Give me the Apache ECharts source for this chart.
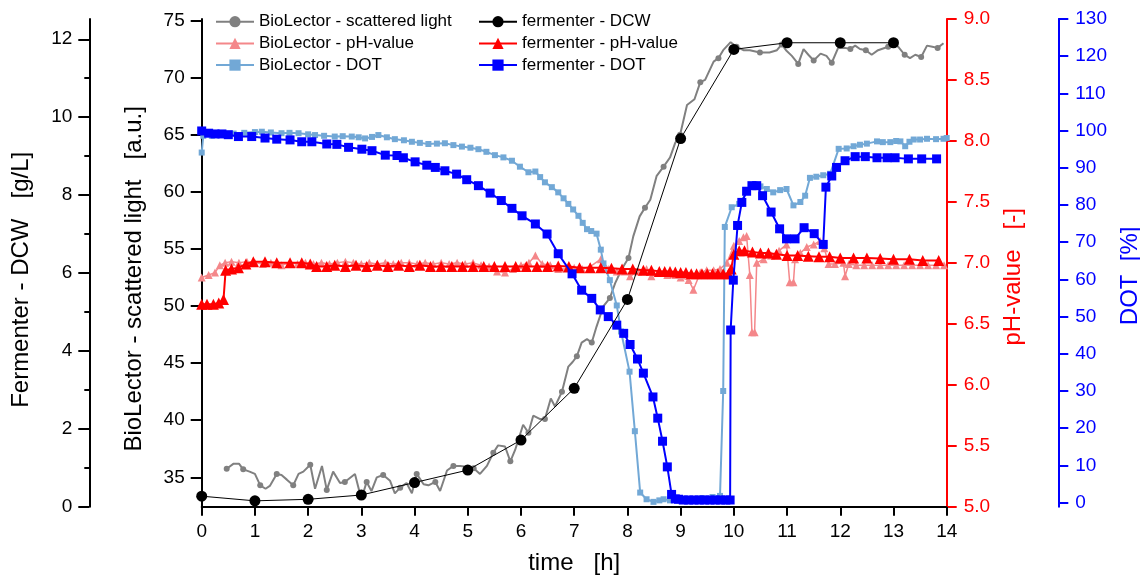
<!DOCTYPE html>
<html><head><meta charset="utf-8">
<script src="https://cdn.jsdelivr.net/npm/echarts@6/dist/echarts.min.js"></script>
<style>html,body{margin:0;padding:0;background:#fff}#c{width:1140px;height:579px}</style>
</head><body><div id="c"></div>
<script>
// ---- tick labels ----
const xTicks = [0,1,2,3,4,5,6,7,8,9,10,11,12,13,14];
const scatterTicks = [35,40,45,50,55,60,65,70,75];
const dcwTicks = [0,2,4,6,8,10,12];
const dcwMinorTicks = [1,3,5,7,9,11];
const phTicks = [5.0,5.5,6.0,6.5,7.0,7.5,8.0,8.5,9.0];
const dotTicks = [0,10,20,30,40,50,60,70,80,90,100,110,120,130];

// ---- BioLector - scattered light [a.u.] ----
const bioScatterTime = [0.47,0.6,0.7,0.78,0.9,1.0,1.1,1.2,1.28,1.41,1.5,1.6,1.72,1.82,1.91,2.04,2.13,2.26,2.35,2.47,2.6,2.69,2.88,3.0,3.1,3.19,3.29,3.41,3.54,3.63,3.73,3.85,3.95,4.04,4.17,4.26,4.39,4.48,4.61,4.73,4.86,5.01,5.11,5.23,5.36,5.48,5.57,5.7,5.8,5.89,6.04,6.14,6.23,6.36,6.45,6.56,6.64,6.77,6.89,6.97,7.05,7.14,7.24,7.33,7.42,7.55,7.67,7.77,7.89,8.02,8.11,8.23,8.33,8.43,8.55,8.68,8.8,8.9,8.99,9.12,9.26,9.37,9.46,9.62,9.71,9.8,9.94,10.05,10.18,10.3,10.49,10.67,10.81,10.9,10.98,11.09,11.21,11.31,11.4,11.5,11.63,11.74,11.84,11.96,12.09,12.19,12.28,12.37,12.48,12.59,12.71,12.9,13.0,13.09,13.21,13.31,13.41,13.52,13.63,13.73,13.83,13.94];
const bioScatterValue = [35.75,36.2,36.2,35.7,35.5,35.3,34.3,34.0,34.25,35.3,35.2,34.8,34.3,35.3,35.5,36.1,34.0,36.0,33.9,35.5,34.5,34.6,35.3,33.1,34.6,33.8,35.0,35.2,34.7,33.6,34.1,34.5,33.6,35.3,34.4,34.3,34.6,33.8,35.6,36.0,36.0,35.9,35.8,35.3,36.0,37.15,37.8,37.7,36.4,37.4,39.6,38.9,40.4,40.1,40.1,41.9,41.2,42.5,44.7,45.1,45.6,46.8,47.1,46.8,48.2,50.0,50.7,52.0,53.2,54.2,56.1,57.85,58.6,59.3,61.4,62.2,63.0,64.3,65.0,67.6,68.1,69.6,69.8,71.4,71.7,72.4,73.1,72.7,72.4,72.4,72.2,72.2,72.4,72.9,72.4,71.9,71.2,72.5,72.0,71.5,72.1,71.9,71.3,72.6,72.6,72.5,72.8,72.5,72.4,72.0,72.4,72.7,72.9,72.7,72.0,71.7,72.0,71.8,72.8,72.7,72.6,73.0];

// ---- BioLector - pH-value ----
const bioPhTime = [0,0.13,0.25,0.34,0.44,0.56,0.7,0.85,1.0,1.15,1.3,1.5,1.65,1.8,1.95,2.1,2.25,2.4,2.55,2.7,2.85,3.0,3.15,3.3,3.45,3.6,3.75,3.9,4.05,4.2,4.35,4.5,4.65,4.8,4.95,5.1,5.25,5.4,5.55,5.7,5.85,6.0,6.15,6.27,6.4,6.55,6.7,6.85,7.0,7.15,7.3,7.5,7.65,7.8,7.95,8.05,8.2,8.36,8.45,8.61,8.75,8.9,9.0,9.15,9.24,9.37,9.49,9.62,9.74,9.87,10.0,10.1,10.18,10.24,10.3,10.34,10.39,10.43,10.56,10.7,10.85,10.99,11.05,11.12,11.15,11.25,11.37,11.5,11.62,11.7,11.78,11.9,12.06,12.09,12.16,12.3,12.45,12.6,12.75,12.9,13.05,13.2,13.35,13.5,13.65,13.8,13.95];
const bioPhValue = [6.88,6.9,6.92,6.98,7.0,7.01,7.0,7.01,7.0,6.99,7.0,6.98,7.0,6.99,7.0,6.99,7.0,6.99,7.0,7.01,7.0,6.99,7.0,6.99,7.0,6.99,7.0,7.0,6.99,7.0,6.99,7.0,6.99,7.0,6.99,7.0,6.98,6.97,6.93,6.92,6.95,6.98,7.0,7.06,6.99,6.98,6.95,6.95,6.96,6.95,6.97,7.03,6.95,6.93,6.93,6.89,6.93,6.95,6.89,6.92,6.9,6.9,6.88,6.86,6.78,6.92,6.94,6.94,6.95,7.0,7.14,7.18,7.21,7.22,6.9,6.43,6.43,7.0,7.03,7.06,7.1,7.15,6.84,6.84,7.03,7.08,7.13,7.15,7.18,7.12,6.99,6.99,7.0,6.89,6.99,6.98,6.98,6.98,6.98,6.98,6.98,6.98,6.98,6.98,6.98,6.98,6.98];

// ---- BioLector - DOT [%] ----
const bioDotTime = [0,0.03,0.19,0.4,0.6,0.8,1.0,1.13,1.3,1.5,1.65,1.82,2.0,2.13,2.3,2.5,2.65,2.82,2.95,3.07,3.2,3.32,3.48,3.63,3.8,3.95,4.1,4.26,4.42,4.57,4.73,4.89,5.05,5.2,5.35,5.51,5.67,5.83,5.98,6.14,6.27,6.36,6.45,6.58,6.7,6.8,6.89,6.98,7.08,7.16,7.24,7.32,7.42,7.5,7.55,7.67,7.8,7.88,8.04,8.14,8.24,8.36,8.49,8.6,8.68,8.8,9.0,9.2,9.4,9.6,9.74,9.8,9.83,9.96,10.1,10.25,10.4,10.5,10.62,10.74,10.87,10.99,11.12,11.25,11.34,11.43,11.55,11.68,11.81,11.97,12.12,12.25,12.37,12.5,12.69,12.8,12.94,13.05,13.13,13.22,13.3,13.38,13.5,13.63,13.8,13.94,14.0];
const bioDotValue = [94.1,98.6,98.6,99.0,99.2,99.4,99.6,99.7,99.5,99.3,99.4,99.3,99.0,98.8,98.6,98.4,98.5,98.4,98.2,97.9,98.3,98.8,98.2,97.7,97.4,97.0,96.7,96.4,96.5,96.6,96.1,95.7,95.4,95.0,94.3,93.4,92.8,91.9,90.3,88.8,89.0,87.5,86.1,84.8,83.4,81.8,80.3,78.8,77.1,75.2,73.5,73.0,72.3,68.0,64.3,59.8,53.0,46.0,35.2,19.2,2.7,0.9,0.2,0.6,0.9,0.6,0.8,0.9,1.2,1.5,1.8,30.0,74.1,79.4,80.3,83.5,85.5,85.0,84.3,83.4,84.0,84.3,79.9,80.8,82.5,87.3,87.6,88.0,88.4,95.1,95.2,95.8,96.2,96.5,97.1,96.9,96.9,97.2,97.1,95.8,97.0,97.6,97.6,97.8,97.7,97.8,98.0];

// ---- fermenter - DCW [g/L] ----
const fermDcwTime = [0,1,2,3,4,5,6,7,8,9,10,11,12,13];
const fermDcwValue = [0.27,0.15,0.19,0.30,0.62,0.94,1.71,3.04,5.32,9.45,11.74,11.91,11.91,11.91];

// ---- fermenter - pH-value ----
const fermPhTime = [0,0.1,0.22,0.32,0.41,0.45,0.56,0.69,0.83,0.97,1.19,1.41,1.66,1.88,2.04,2.16,2.35,2.5,2.7,2.9,3.1,3.3,3.5,3.7,3.9,4.1,4.3,4.5,4.7,4.9,5.1,5.3,5.5,5.7,5.9,6.1,6.3,6.5,6.7,6.9,7.1,7.3,7.5,7.7,7.9,8.1,8.3,8.45,8.6,8.7,8.8,8.9,9.0,9.1,9.2,9.3,9.4,9.5,9.6,9.7,9.8,9.9,9.95,10.0,10.1,10.2,10.35,10.5,10.65,10.8,11.0,11.2,11.4,11.6,11.8,12.0,12.25,12.5,12.75,13.0,13.3,13.55,13.85];
const fermPhValue = [6.66,6.66,6.66,6.67,6.70,6.94,6.95,6.96,6.99,7.01,7.01,7.0,7.0,7.0,6.99,6.97,6.97,6.98,6.97,6.98,6.97,6.98,6.97,6.98,6.97,6.98,6.97,6.97,6.97,6.97,6.97,6.97,6.97,6.97,6.97,6.97,6.97,6.97,6.975,6.97,6.96,6.96,6.96,6.955,6.95,6.95,6.94,6.94,6.93,6.93,6.93,6.925,6.92,6.92,6.91,6.91,6.91,6.91,6.91,6.91,6.91,6.91,6.95,7.07,7.1,7.1,7.09,7.08,7.08,7.07,7.06,7.06,7.055,7.05,7.05,7.04,7.04,7.04,7.035,7.03,7.03,7.02,7.02];

// ---- fermenter - DOT [%] ----
const fermDotTime = [0,0.13,0.25,0.38,0.5,0.69,0.94,1.19,1.41,1.66,1.88,2.07,2.35,2.54,2.76,3.01,3.2,3.45,3.67,3.79,4.01,4.23,4.39,4.57,4.79,4.98,5.2,5.42,5.63,5.83,6.02,6.27,6.49,6.7,6.96,7.14,7.33,7.49,7.64,7.8,7.93,8.05,8.19,8.3,8.48,8.57,8.66,8.75,8.83,8.9,8.96,9.05,9.15,9.25,9.35,9.45,9.55,9.65,9.75,9.85,9.93,9.94,9.99,10.07,10.15,10.24,10.34,10.43,10.54,10.7,10.86,10.99,11.15,11.32,11.51,11.68,11.73,11.84,11.93,12.09,12.28,12.47,12.69,12.88,13.03,13.28,13.53,13.81];
const fermDotValue = [99.9,99.3,99.1,99.1,98.9,98.4,98.4,98.0,97.7,97.5,97.0,97.0,96.4,96.3,95.5,95.0,94.6,93.4,93.3,92.7,91.6,90.7,90.1,89.2,88.3,86.8,85.2,83.2,81.2,79.1,77.1,74.9,72.2,66.9,61.5,57.1,54.9,51.8,50.0,47.7,45.5,42.5,38.6,34.8,28.4,22.7,16.5,9.6,2.2,1.0,0.9,0.7,0.7,0.7,0.7,0.7,0.7,0.7,0.7,0.7,0.7,46.4,59.8,74.5,80.7,83.7,85.2,85.2,82.5,78.1,73.6,70.9,70.9,73.9,72.3,69.4,84.8,87.8,90.1,91.9,93.0,93.0,92.7,92.7,92.7,92.4,92.4,92.4];

function zip(t, v) { return t.map(function (x, i) { return [x, v[i]]; }); }

const FONT = 'Liberation Sans, Arial, sans-serif';
const chart = echarts.init(document.getElementById('c'), null, { renderer: 'canvas' });

function yAxisBase(opts) {
  const col = opts.color;
  return {
    type: 'value',
    position: opts.position,
    offset: opts.offset,
    min: opts.min, max: opts.max,
    name: opts.name,
    nameLocation: 'middle',
    nameRotate: 90,
    nameGap: opts.nameGap,
    nameTextStyle: { fontSize: 24, color: col, fontFamily: FONT, padding: opts.namePad },
    axisLine: { show: true, onZero: false, lineStyle: { color: col, width: 2 } },
    axisTick: { show: true, inside: false, length: opts.tickLen, customValues: opts.ticks, lineStyle: { color: col, width: 2 } },
    axisLabel: { show: true, margin: 17, fontSize: 19, color: col, fontFamily: FONT, customValues: opts.ticks, formatter: opts.fmt },
    splitLine: { show: false }
  };
}

const option = {
  animation: false,
  backgroundColor: '#ffffff',
  textStyle: { fontFamily: FONT },
  grid: { left: 201.7, right: 193.3, top: 19, bottom: 72.3, containLabel: false, outerBoundsMode: 'none' },
  legend: [
    {
      data: ['BioLector - scattered light', 'BioLector - pH-value', 'BioLector - DOT'],
      orient: 'vertical', left: 210, top: 8.2, itemWidth: 38, itemHeight: 14, itemGap: 4.7,
      selectedMode: false,
      textStyle: { fontSize: 17, color: '#000', lineHeight: 17, fontFamily: FONT }
    },
    {
      data: ['fermenter - DCW', 'fermenter - pH-value', 'fermenter - DOT'],
      orient: 'vertical', left: 473, top: 8.2, itemWidth: 38, itemHeight: 14, itemGap: 4.7,
      selectedMode: false,
      textStyle: { fontSize: 17, color: '#000', lineHeight: 17, fontFamily: FONT }
    }
  ],
  xAxis: [{
    type: 'value', min: 0, max: 14, interval: 1,
    name: 'time   [h]', nameLocation: 'middle', nameGap: 45,
    nameTextStyle: { fontSize: 24, color: '#000', fontFamily: FONT },
    axisLine: { onZero: false, lineStyle: { color: '#000', width: 2 } },
    axisTick: { inside: false, length: 9, customValues: xTicks, lineStyle: { color: '#000', width: 2 } },
    axisLabel: { margin: 16, fontSize: 19, color: '#000', fontFamily: FONT, customValues: xTicks },
    splitLine: { show: false }
  }],
  yAxis: [
    yAxisBase({ position: 'left', offset: 0, min: 32.43, max: 75.13, name: 'BioLector - scattered light   [a.u.]',
      nameGap: 55, namePad: [0, 32, 0, 0], color: '#000', tickLen: 11, ticks: scatterTicks }),
    yAxisBase({ position: 'left', offset: 112.4, min: 0, max: 12.52, name: 'Fermenter - DCW   [g/L]',
      nameGap: 56, namePad: [0, 34, 0, 0], color: '#000', tickLen: 11, ticks: dcwTicks }),
    yAxisBase({ position: 'right', offset: 0, min: 5, max: 9, name: 'pH-value   [-]',
      nameGap: 55, namePad: [0, 28, 0, 0], color: '#ff0000', tickLen: 10, ticks: phTicks,
      fmt: function (v) { return v.toFixed(1); } }),
    yAxisBase({ position: 'right', offset: 111.6, min: -1.1, max: 130, name: 'DOT  [%]',
      nameGap: 52, namePad: [0, 26, 0, 0], color: '#0000ff', tickLen: 10, ticks: dotTicks }),
    {
      type: 'value', position: 'left', offset: 112.4, min: 0, max: 12.52,
      axisLine: { show: false, onZero: false },
      axisTick: { show: true, inside: false, length: 5, customValues: dcwMinorTicks, lineStyle: { color: '#000', width: 2 } },
      axisLabel: { show: false },
      splitLine: { show: false }
    }
  ],
  series: [
    {
      name: 'BioLector - scattered light', type: 'line', yAxisIndex: 0,
      data: zip(bioScatterTime, bioScatterValue),
      symbol: 'circle', showAllSymbol: true,
      symbolSize: function (val, p) { return p.dataIndex % 3 === 0 ? 6 : 0; },
      color: '#808080', lineStyle: { color: '#808080', width: 2 }, itemStyle: { color: '#808080' },
      z: 2
    },
    {
      name: 'BioLector - pH-value', type: 'line', yAxisIndex: 2,
      data: zip(bioPhTime, bioPhValue),
      symbol: 'triangle', symbolSize: 8, showAllSymbol: true,
      color: '#f4878a', lineStyle: { color: '#f4878a', width: 1.5 }, itemStyle: { color: '#f4878a' },
      z: 3
    },
    {
      name: 'BioLector - DOT', type: 'line', yAxisIndex: 3,
      data: zip(bioDotTime, bioDotValue),
      symbol: 'rect', symbolSize: 6, showAllSymbol: true,
      color: '#72a8d6', lineStyle: { color: '#72a8d6', width: 2 }, itemStyle: { color: '#72a8d6' },
      z: 4
    },
    {
      name: 'fermenter - DCW', type: 'line', yAxisIndex: 1,
      data: zip(fermDcwTime, fermDcwValue),
      symbol: 'circle', symbolSize: 11, showAllSymbol: true,
      color: '#000000', lineStyle: { color: '#000000', width: 1 }, itemStyle: { color: '#000000' },
      z: 7
    },
    {
      name: 'fermenter - pH-value', type: 'line', yAxisIndex: 2,
      data: zip(fermPhTime, fermPhValue),
      symbol: 'triangle', symbolSize: 11, showAllSymbol: true,
      color: '#ff0000', lineStyle: { color: '#ff0000', width: 2 }, itemStyle: { color: '#ff0000' },
      z: 5
    },
    {
      name: 'fermenter - DOT', type: 'line', yAxisIndex: 3,
      data: zip(fermDotTime, fermDotValue),
      symbol: 'rect', symbolSize: 9, showAllSymbol: true,
      color: '#0000ff', lineStyle: { color: '#0000ff', width: 2 }, itemStyle: { color: '#0000ff' },
      z: 6
    }
  ]
};
chart.setOption(option);
</script>
</body></html>
